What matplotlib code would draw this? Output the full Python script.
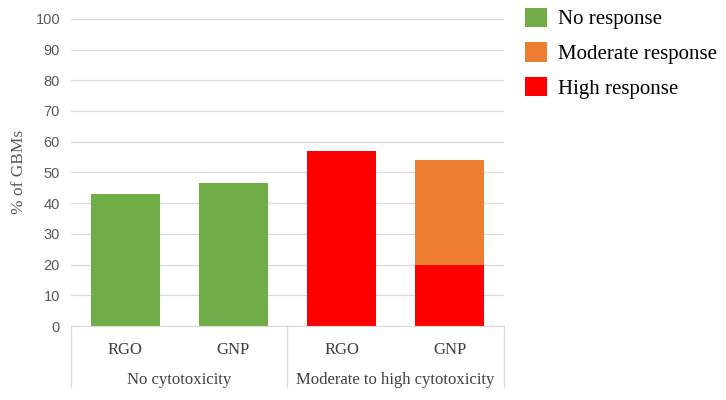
import numpy as np
import matplotlib.pyplot as plt

plt.rcParams['font.family'] = 'Liberation Serif'

groups = ['No cytotoxicity', 'Moderate to high cytotoxicity']
materials = ['RGO', 'GNP', 'RGO', 'GNP']
no_resp = [42.9, 46.7, 0, 0]
high_resp = [0, 0, 57.1, 20.0]
mod_resp = [0, 0, 0, 34.0]

green = '#70AD47'
orange = '#ED7D31'
red = '#FF0000'
grey = '#595959'

fig = plt.figure(figsize=(7.26, 4.0), dpi=100)
ax = fig.add_axes([0.098, 0.185, 0.596, 0.768])

x = np.arange(len(materials))
w = 0.64
ax.bar(x, no_resp, w, color=green, label='No response')
ax.bar(x, mod_resp, w, bottom=high_resp, color=orange, label='Moderate response')
ax.bar(x, high_resp, w, color=red, label='High response')

ax.set_ylim(0, 100)
ax.set_xlim(-0.5, 3.5)
ax.set_yticks(range(0, 101, 10))
ax.yaxis.grid(True, color='#d9d9d9', lw=0.9)
ax.set_axisbelow(True)
for s in ['top', 'right', 'left']:
    ax.spines[s].set_visible(False)
ax.spines['bottom'].set_color('#d9d9d9')
ax.tick_params(axis='y', length=0, labelsize=10.5, labelcolor=grey, pad=8)
for t in ax.get_yticklabels():
    t.set_family('Liberation Sans')
ax.set_xticks([])
ax.set_ylabel('% of GBMs', color=grey, fontsize=12.5, labelpad=6)

# category axis box
trans = ax.get_xaxis_transform()
for xv in [-0.5, 1.5, 3.5]:
    ax.plot([xv, xv], [0, -0.2], color='#d9d9d9', lw=0.9, transform=trans, clip_on=False)
for xi, m in zip(x, materials):
    ax.text(xi, -0.078, m, transform=trans, ha='center', va='center', fontsize=12, color='#404040')
for gi, g in enumerate(groups):
    ax.text(gi * 2 + 0.5, -0.175, g, transform=trans, ha='center', va='center', fontsize=12, color='#404040')

h, l = ax.get_legend_handles_labels()
fig.legend(h, l, loc='upper left', bbox_to_anchor=(0.697, 1.028), frameon=False,
           fontsize=15, handlelength=1.05, handleheight=1.05, labelspacing=0.62, handletextpad=0.55,
           labelcolor='black')

fig.savefig('out.png', dpi=100)
